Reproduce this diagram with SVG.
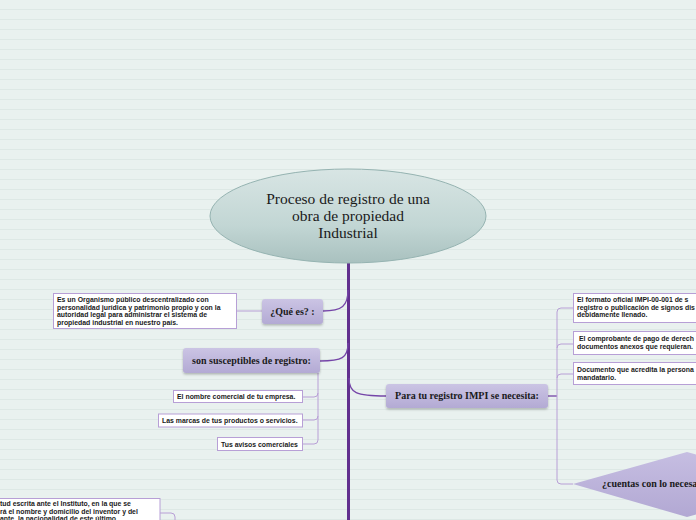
<svg xmlns="http://www.w3.org/2000/svg" width="696" height="520" viewBox="0 0 696 520">
<defs>
<pattern id="lines" x="0" y="0" width="696" height="10" patternUnits="userSpaceOnUse">
<rect width="696" height="10" fill="#e9f1ef"/>
<rect y="9" width="696" height="1" fill="#dde8e5"/>
</pattern>
<linearGradient id="rootG" x1="0" y1="0" x2="0" y2="1">
<stop offset="0" stop-color="#d8e5e4"/>
<stop offset="0.6" stop-color="#c2d6d4"/>
<stop offset="1" stop-color="#a9c1bf"/>
</linearGradient>
<linearGradient id="purG" x1="0" y1="0" x2="0" y2="1">
<stop offset="0" stop-color="#cbc4e4"/>
<stop offset="1" stop-color="#b3aad4"/>
</linearGradient>
<linearGradient id="diaG" x1="0" y1="0" x2="0" y2="1">
<stop offset="0" stop-color="#c6bee2"/>
<stop offset="1" stop-color="#b2a8d3"/>
</linearGradient>
<filter id="sh" x="-10%" y="-20%" width="120%" height="150%">
<feDropShadow dx="0" dy="1.5" stdDeviation="1" flood-color="#000" flood-opacity="0.25"/>
</filter>
</defs>
<style>
.root{font-family:"Liberation Serif","DejaVu Serif",serif;font-size:15.5px;fill:#1a1a1a;text-anchor:middle}
.lbl{font-family:"Liberation Serif","DejaVu Serif",serif;font-size:10px;font-weight:bold;fill:#1a1a1a;text-anchor:middle}
.leaf{font-family:"Liberation Sans","Arial",sans-serif;font-size:6.9px;font-weight:bold;fill:#1a1a1a}
.pbox{fill:url(#purG);filter:url(#sh)}
.wbox{fill:#ffffff;stroke:#b79fd6;stroke-width:1}
.trunk{fill:none;stroke:#62308f;stroke-width:3}
.br{fill:none;stroke:#7545a8;stroke-width:1.3}
.lt{fill:none;stroke:#b89fd6;stroke-width:1}
</style>
<rect width="696" height="520" fill="url(#lines)"/>

<g id="connectors">
<path class="trunk" d="M348.5,262 V520"/>
<path class="br" d="M348,290 C348,306 342,311 323,311"/>
<path class="br" d="M348,343 C348,358 342,361 320,361"/>
<path class="br" d="M349,378 C349,393 356,396 386,396"/>
<path class="lt" d="M237,311 H262"/>
<path class="lt" d="M318,373 V440 Q318,444 314,444 H303 M318,393 Q318,397 314,397 H303 M318,416 Q318,420 314,420 H303"/>
<path class="br" d="M548,396 H557"/>
<path class="lt" d="M557,312 Q557,308 561,308 H573 M557,312 V480 Q557,484 561,484 H573 M557,348 Q557,344 561,344 H573 M557,378 Q557,374 561,374 H573"/>
<path class="lt" d="M160,513 H171 Q175,513 175,517 V520"/>
</g>

<g id="root">
<ellipse cx="348" cy="216" rx="138" ry="47" fill="url(#rootG)" stroke="#95b3b1" stroke-width="1"/>
<text class="root" x="348" y="204">Proceso de registro de una</text>
<text class="root" x="348" y="221">obra de propiedad</text>
<text class="root" x="348" y="238">Industrial</text>
</g>

<g id="que-es">
<rect class="pbox" x="262" y="299" width="61" height="25" rx="3"/>
<text class="lbl" x="292.5" y="314.5">¿Qué es? :</text>
</g>

<g id="que-es-desc">
<rect class="wbox" x="53.5" y="293.5" width="183" height="35"/>
<text class="leaf" x="57" y="302">Es un Organismo público descentralizado con</text>
<text class="leaf" x="57" y="309.5">personalidad jurídica y patrimonio propio y con la</text>
<text class="leaf" x="57" y="317">autoridad legal para administrar el sistema de</text>
<text class="leaf" x="57" y="324.5">propiedad industrial en nuestro país.</text>
</g>

<g id="susceptibles">
<rect class="pbox" x="183" y="348" width="137" height="25" rx="3"/>
<text class="lbl" x="251.5" y="364">son susceptibles de registro:</text>
</g>

<g id="nombre">
<rect class="wbox" x="173.5" y="390.5" width="129" height="12"/>
<text class="leaf" x="177" y="399">El nombre comercial de tu empresa.</text>
</g>
<g id="marcas">
<rect class="wbox" x="158.5" y="414" width="144" height="13"/>
<text class="leaf" x="162" y="423">Las marcas de tus productos o servicios.</text>
</g>
<g id="avisos">
<rect class="wbox" x="217.5" y="437.5" width="85" height="13"/>
<text class="leaf" x="221" y="446.5">Tus avisos comerciales</text>
</g>

<g id="para-registro">
<rect class="pbox" x="386" y="384" width="162" height="24" rx="3"/>
<text class="lbl" x="467" y="399">Para tu registro IMPI se necesita:</text>
</g>

<g id="formato">
<rect class="wbox" x="573.5" y="293.5" width="130" height="29"/>
<text class="leaf" x="577" y="302">El formato oficial IMPI-00-001 de s</text>
<text class="leaf" x="577" y="309.5">registro o publicación de signos dis</text>
<text class="leaf" x="577" y="317">debidamente llenado.</text>
</g>
<g id="comprobante">
<rect class="wbox" x="573.5" y="331.5" width="130" height="23"/>
<text class="leaf" x="579" y="341">El comprobante de pago de derech</text>
<text class="leaf" x="577" y="348.5">documentos anexos que requieran.</text>
</g>
<g id="documento">
<rect class="wbox" x="573.5" y="362.5" width="130" height="22"/>
<text class="leaf" x="577" y="372">Documento que acredita la persona</text>
<text class="leaf" x="577" y="379.5">mandatario.</text>
</g>

<g id="cuentas">
<polygon points="573,484 687,452 801,484 687,517" fill="url(#diaG)"/>
<text class="lbl" x="602" y="487" style="text-anchor:start">¿cuentas con lo necesa</text>
</g>

<g id="solicitud">
<rect class="wbox" x="-10" y="498.5" width="170" height="30"/>
<text class="leaf" x="0" y="506">tud escrita ante el Instituto, en la que se</text>
<text class="leaf" x="0" y="513.5">rá el nombre y domicilio del inventor y del</text>
<text class="leaf" x="0" y="520.5">ante, la nacionalidad de este último</text>
</g>
</svg>
